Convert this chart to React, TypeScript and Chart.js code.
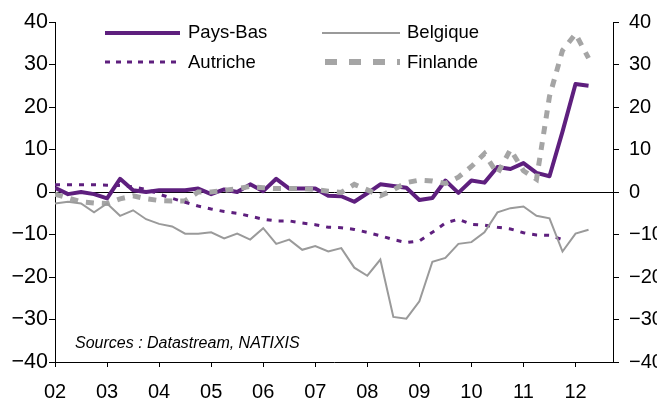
import React, { useEffect, useRef } from "react";
import { Chart, registerables } from "chart.js";

Chart.register(...registerables);

// Quarterly series, first point = 2002 Q1
const startYear = 2002;
const yearTicks = [2002, 2003, 2004, 2005, 2006, 2007, 2008, 2009, 2010, 2011, 2012];

const paysBas = [
  1.0, -0.5, 0, -0.5, -1.5, 3.1, 0.4, 0, 0.4, 0.4, 0.4, 0.8, -0.5, 0.6, 0, 1.8, 0.2, 3.1, 0.8, 0.8,
  0.8, -0.9, -1.0, -2.3, -0.3, 1.8, 1.4, 1.0, -1.9, -1.4, 2.7, -0.2, 2.7, 2.2, 5.9, 5.4, 6.8, 4.5,
  3.7, 14.2, 25.4, 25.0,
];
const belgique = [
  -2.7, -2.3, -2.7, -4.8, -2.7, -5.6, -4.3, -6.4, -7.5, -8.1, -9.8, -9.8, -9.5, -10.9, -9.8, -11.2,
  -8.5, -12.2, -11.2, -13.6, -12.7, -14.0, -13.2, -17.8, -19.7, -15.9, -29.4, -29.8, -25.7, -16.4,
  -15.5, -12.2, -11.8, -9.5, -4.8, -3.8, -3.4, -5.6, -6.2, -14.0, -9.8, -8.9,
];
const autriche = [
  1.7, 1.7, 1.7, 1.7, 1.6, 1.5, 1.2, 0.6, -0.5, -1.5, -2.4, -3.3, -4.0, -4.6, -5.0, -5.7, -6.4, -6.8,
  -6.8, -7.3, -7.7, -8.3, -8.4, -8.8, -9.5, -10.3, -11.2, -11.9, -11.5, -9.5, -7.3, -6.4, -7.6, -7.8,
  -8.3, -8.7, -9.6, -10.1, -10.2, -11.2,
];
const finlande = [
  -0.5, -1.4, -2.3, -2.6, -2.7, -1.6, -0.9, -1.6, -2.0, -2.1, -2.1, 0, 0, 0.4, 0.8, 1.3, 1.0, 0.8, 0.8,
  0.8, 0.6, 0.2, -0.1, 1.8, 0.5, -0.9, 0.5, 2.2, 2.8, 2.6, 2.0, 3.5, 6.0, 9.0, 4.3, 10.0, 5.0, 3.0,
  22.5, 33.3, 37.2, 31.5,
];

const PURPLE = "#5E1F7E";
const GRAY_THIN = "#9A9A9A";
const GRAY_THICK = "#A5A5A5";
const FONT = "'Liberation Sans', Arial, sans-serif";

const toPoints = (vals: number[]) => vals.map((v, i) => ({ x: startYear + i / 4, y: v }));
const fmtY = (v: any) => (Number(v) < 0 ? "\u2212" + Math.abs(Number(v)) : String(v));

const overlayPlugin = {
  id: "overlay",
  afterDraw(chart: any) {
    const ctx = chart.ctx as CanvasRenderingContext2D;
    ctx.save();
    const sample = (x1: number, x2: number, y: number, color: string, w: number, dash: number[]) => {
      ctx.beginPath();
      ctx.strokeStyle = color;
      ctx.lineWidth = w;
      ctx.setLineDash(dash);
      ctx.lineCap = "butt";
      ctx.moveTo(x1, y);
      ctx.lineTo(x2, y);
      ctx.stroke();
    };
    sample(105, 180, 33, PURPLE, 4, []);
    sample(105, 178, 62, PURPLE, 3, [5, 6]);
    sample(322, 400, 33, GRAY_THIN, 2, []);
    sample(325, 400, 62, GRAY_THICK, 6, [12, 12]);
    ctx.setLineDash([]);
    ctx.fillStyle = "#000";
    ctx.textBaseline = "alphabetic";
    ctx.textAlign = "left";
    ctx.font = `18.5px ${FONT}`;
    ctx.fillText("Pays-Bas", 188, 38);
    ctx.fillText("Autriche", 188, 68);
    ctx.fillText("Belgique", 407, 38);
    ctx.fillText("Finlande", 407, 68);
    ctx.font = `italic 16px ${FONT}`;
    ctx.fillText("Sources : Datastream, NATIXIS", 75, 348);
    ctx.restore();
  },
};

export default function App() {
  const ref = useRef<HTMLCanvasElement | null>(null);

  useEffect(() => {
    if (!ref.current) return;
    const chart = new Chart(ref.current, {
      type: "line",
      data: {
        datasets: [
          {
            label: "Belgique",
            data: toPoints(belgique),
            borderColor: GRAY_THIN,
            borderWidth: 2,
            pointRadius: 0,
            tension: 0,
          },
          {
            label: "Autriche",
            data: toPoints(autriche),
            borderColor: PURPLE,
            borderWidth: 3,
            borderDash: [5, 7],
            pointRadius: 0,
            tension: 0,
          },
          {
            label: "Finlande",
            data: toPoints(finlande),
            borderColor: GRAY_THICK,
            borderWidth: 5,
            borderDash: [8, 8],
            pointRadius: 0,
            tension: 0,
          },
          {
            label: "Pays-Bas",
            data: toPoints(paysBas),
            borderColor: PURPLE,
            borderWidth: 4,
            pointRadius: 0,
            tension: 0,
            borderJoinStyle: "round",
          },
        ],
      },
      options: {
        animation: false,
        responsive: false,
        maintainAspectRatio: false,
        layout: { padding: { top: 19, left: 0, right: 0, bottom: 0 } },
        plugins: { legend: { display: false }, tooltip: { enabled: false } },
        scales: {
          x: {
            type: "linear",
            position: "bottom",
            min: 2002,
            max: 2012.72,
            afterBuildTicks: (s: any) => {
              s.ticks = yearTicks.map((v) => ({ value: v }));
            },
            afterFit: (s: any) => {
              s.height = 41;
            },
            ticks: {
              autoSkip: false,
              maxRotation: 0,
              padding: 13,
              color: "#000",
              font: { family: FONT, size: 20 },
              callback: (v: any) => String(v).slice(2),
            },
            grid: { drawOnChartArea: false, tickLength: 5, tickColor: "#000" },
            border: { color: "#000", width: 1 },
          },
          y: {
            position: "left",
            min: -40,
            max: 40,
            afterFit: (s: any) => {
              s.width = 55;
            },
            ticks: {
              stepSize: 10,
              padding: 1,
              color: "#000",
              font: { family: FONT, size: 21.5 },
              callback: fmtY,
            },
            grid: {
              drawOnChartArea: true,
              tickLength: 6,
              tickColor: "#000",
              color: (c: any) => (c.tick && c.tick.value === 0 ? "#000" : "rgba(0,0,0,0)"),
            },
            border: { color: "#000", width: 1 },
          },
          y2: {
            position: "right",
            min: -40,
            max: 40,
            afterFit: (s: any) => {
              s.width = 44;
            },
            ticks: {
              stepSize: 10,
              padding: 10,
              color: "#000",
              font: { family: FONT, size: 20 },
              callback: fmtY,
            },
            grid: { drawOnChartArea: false, tickLength: 6, tickColor: "#000" },
            border: { color: "#000", width: 1 },
          },
        },
      },
      plugins: [overlayPlugin],
    } as any);
    return () => chart.destroy();
  }, []);

  return (
    <div style={{ position: "absolute", left: 0, top: 0, width: 657, height: 403, background: "#fff" }}>
      <canvas ref={ref} width={657} height={403} style={{ width: 657, height: 403, display: "block" }} />
    </div>
  );
}
